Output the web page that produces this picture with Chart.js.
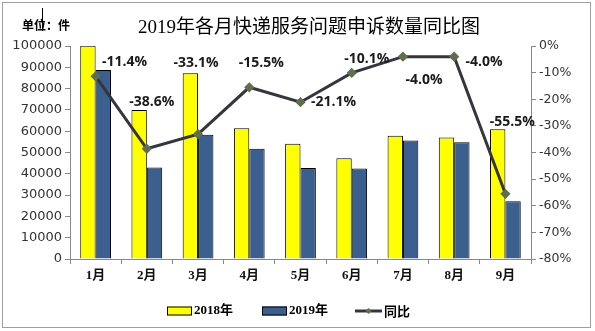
<!DOCTYPE html>
<html>
<head>
<meta charset="utf-8">
<script src="https://cdn.jsdelivr.net/npm/chart.js@4/dist/chart.umd.min.js"></script>
<style>
  html, body { margin: 0; padding: 0; background: #fff; }
  canvas { display: block; }
</style>
</head>
<body>
<canvas id="myChart" width="595" height="331"></canvas>
<script>
const months = ['1月', '2月', '3月', '4月', '5月', '6月', '7月', '8月', '9月'];
const count2018 = [100100, 70000, 87200, 61400, 54100, 47300, 57900, 57100, 60900];
const count2019 = [88700, 43000, 58300, 51800, 42700, 42500, 55600, 54800, 27100];
const yoy = [-11.4, -38.6, -33.1, -15.5, -21.1, -10.1, -4.0, -4.0, -55.5];
const countTicks = [0, 100000, 10000];
const pctTicks = [-80, 0, 10];

// where each yoy label sits relative to its point
const labelOffsets = [[29, -14], [5, -47], [-2, -71], [12, -24], [33, 0], [15, -14], [21, 23], [30, 5], [7, -72]];

const serif = '"Liberation Serif", "Noto Sans CJK SC", serif';
const cjk = '"Noto Sans CJK SC", sans-serif';
const yellow = '#ffff00';
const blue = '#3b5f8f';
const lineCol = '#35353f';
const markCol = '#5e6e4e';

const decor = {
    id: 'decor',
    afterDraw(chart) {
        const c = chart.ctx;
        c.save();
        // frame
        c.strokeStyle = '#a0a0a0';
        c.lineWidth = 1;
        c.strokeRect(2.5, 2.5, 588, 325);
        // stray cursor line
        c.strokeStyle = '#000';
        c.beginPath();
        c.moveTo(42.5, 8);
        c.lineTo(42.5, 31);
        c.stroke();

        c.fillStyle = '#000';
        c.textBaseline = 'middle';
        c.textAlign = 'center';
        c.font = '19px ' + serif;
        c.fillText('2019年各月快递服务问题申诉数量同比图', 309, 28);
        c.textAlign = 'left';
        c.font = 'bold 12px ' + cjk;
        c.fillText('单位：件', 22, 25);

        // yoy labels
        const meta = chart.getDatasetMeta(2);
        c.font = 'bold 14px "Open Sans", sans-serif';
        c.fillStyle = '#1a1a1a';
        c.textAlign = 'center';
        meta.data.forEach((pt, i) => {
            c.fillText(yoy[i].toFixed(1) + '%', pt.x + labelOffsets[i][0], pt.y + labelOffsets[i][1]);
        });

        // legend
        const ly = 311;
        c.font = 'bold 13px ' + serif;
        c.textAlign = 'left';
        c.strokeStyle = '#000';
        c.fillStyle = yellow;
        c.fillRect(167, ly - 4.5, 25, 9);
        c.strokeRect(167.5, ly - 4, 24, 8);
        c.fillStyle = blue;
        c.fillRect(262, ly - 4.5, 25, 9);
        c.strokeRect(262.5, ly - 4, 24, 8);
        c.fillStyle = '#000';
        c.fillText('2018年', 194, ly);
        c.fillText('2019年', 289, ly);
        c.strokeStyle = lineCol;
        c.lineWidth = 3;
        c.beginPath();
        c.moveTo(355, ly);
        c.lineTo(382, ly);
        c.stroke();
        c.fillStyle = markCol;
        c.beginPath();
        c.moveTo(368.5, ly - 3);
        c.lineTo(371.5, ly);
        c.lineTo(368.5, ly + 3);
        c.lineTo(365.5, ly);
        c.closePath();
        c.fill();
        c.fillStyle = '#000';
        c.font = 'bold 13px ' + cjk;
        c.fillText('同比', 384, ly);
        c.restore();
    }
};

const ctx = document.getElementById('myChart').getContext('2d');
const myChart = new Chart(ctx, {
    data: {
        labels: months,
        datasets: [{
            type: 'bar',
            label: '2018年',
            data: count2018,
            backgroundColor: yellow,
            borderColor: '#000',
            borderWidth: 1,
            yAxisID: 'y',
            order: 2
        }, {
            type: 'bar',
            label: '2019年',
            data: count2019,
            backgroundColor: blue,
            borderColor: '#000',
            borderWidth: 1,
            yAxisID: 'y',
            order: 2
        }, {
            type: 'line',
            label: '同比',
            data: yoy,
            borderColor: lineCol,
            borderWidth: 3,
            pointStyle: 'rectRot',
            pointRadius: 3,
            pointBackgroundColor: markCol,
            pointBorderColor: markCol,
            tension: 0,
            yAxisID: 'y1',
            order: 1
        }]
    },
    options: {
        responsive: false,
        animation: false,
        layout: { padding: { top: 46, bottom: 42, left: 0, right: 0 } },
        datasets: { bar: { categoryPercentage: 0.6, barPercentage: 1.0 } },
        plugins: { legend: { display: false }, tooltip: { enabled: false } },
        scales: {
            x: {
                grid: { offset: true, drawOnChartArea: false, tickLength: 5, color: '#888' },
                border: { color: '#888' },
                ticks: { font: { family: serif, size: 13, weight: 'bold' }, color: '#111', padding: 4 },
                afterFit: s => { s.height = 30; }
            },
            y: {
                position: 'left',
                min: countTicks[0],
                max: countTicks[1],
                ticks: { stepSize: countTicks[2], callback: v => String(v), font: { family: 'DejaVu Sans', size: 13 }, color: '#333', padding: 3 },
                grid: { drawOnChartArea: false, tickLength: 5, color: '#888' },
                border: { color: '#888' },
                afterFit: s => { s.width = 70; }
            },
            y1: {
                position: 'right',
                min: pctTicks[0],
                max: pctTicks[1],
                ticks: { stepSize: pctTicks[2], callback: v => v + '%', font: { family: 'DejaVu Sans', size: 12.5 }, color: '#333', padding: 3 },
                grid: { drawOnChartArea: false, tickLength: 5, color: '#888' },
                border: { color: '#888' },
                afterFit: s => { s.width = 64; }
            }
        }
    },
    plugins: [decor]
});
</script>
</body>
</html>
